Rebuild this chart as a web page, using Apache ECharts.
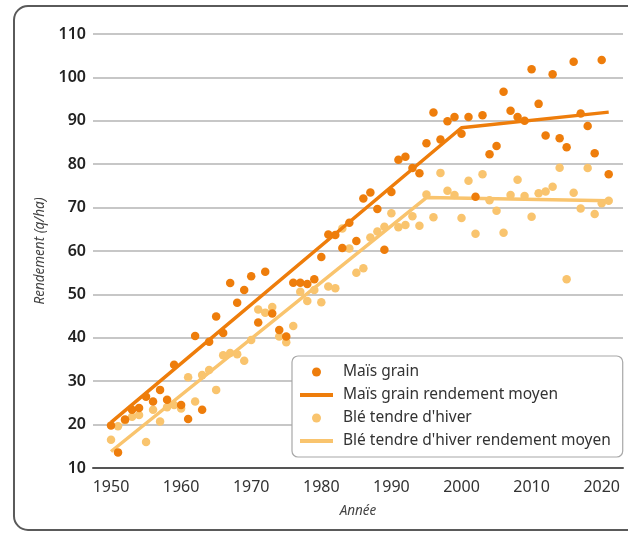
<!DOCTYPE html>
<html>
<head>
<meta charset="utf-8">
<script src="https://cdn.jsdelivr.net/npm/echarts@6/dist/echarts.min.js"></script>
<style>
    html,body{margin:0;padding:0;background:#fff;}
    #chart{width:628px;height:536px;}
</style>
</head>
<body>
<div id="chart"></div>
<script>
// années (positions sur l'axe) et rendements en q/ha
var years = [];
for (var y = 1950; y <= 2021; y++) years.push(y);

var maisValues = [
    19.8, 13.6, 21.2, 23.4, 23.8, 26.4, 25.3, 28.0, 25.7, 33.8,
    24.5, 21.3, 40.4, 23.4, 39.1, 44.9, 41.1, 52.6, 48.1, 51.0,
    54.2, 43.5, 55.2, 45.6, 41.8, 40.3, 52.7, 52.7, 52.4, 53.5,
    58.6, 63.8, 63.7, 60.7, 66.5, 62.3, 72.1, 73.5, 69.7, 60.3,
    73.6, 81.0, 81.7, 79.1, 77.9, 84.8, 91.9, 85.7, 89.9, 90.9,
    87.0, 90.9, 72.5, 91.3, 82.3, 84.2, 96.7, 92.3, 90.9, 90.0,
    101.9, 93.9, 86.6, 100.7, 86.0, 83.9, 103.6, 91.7, 88.8, 82.5,
    104.0, 77.7
];
var bleValues = [
    16.5, 19.6, 21.0, 21.8, 22.2, 16.0, 23.4, 20.7, 24.0, 24.5,
    23.7, 30.9, 25.3, 31.4, 32.6, 28.0, 36.0, 36.5, 36.2, 34.7,
    39.5, 46.5, 45.8, 47.1, 40.3, 39.0, 42.7, 50.6, 48.5, 51.0,
    48.2, 51.8, 51.4, 65.2, 60.6, 55.0, 56.0, 63.1, 64.5, 65.6,
    68.7, 65.5, 66.0, 68.0, 65.8, 73.0, 67.8, 78.0, 73.9, 72.9,
    67.6, 76.2, 64.0, 77.7, 71.7, 69.3, 64.2, 72.9, 76.4, 72.7,
    67.9, 73.3, 73.7, 74.8, 79.2, 53.5, 73.4, 69.8, 79.1, 68.5,
    71.0, 71.6
];
// rendements moyens (droites de tendance par période)
var maisTrendYears = [1950, 2000, 2021];
var maisTrendValues = [20.5, 88.4, 92.0];
var bleTrendYears = [1950, 1995, 2021];
var bleTrendValues = [13.8, 72.3, 71.6];

var xTickLabels = [1950, 1960, 1970, 1980, 1990, 2000, 2010, 2020];

function pairs(xs, vs){
    return xs.map(function(x, i){ return [x, vs[i]]; });
}

var cDark = '#EE7D0B';
var cLight = '#F9C46E';
var font = '"Noto Sans", "Open Sans", sans-serif';

var myChart = echarts.init(document.getElementById('chart'));
myChart.setOption({
    animation: false,
    textStyle: {fontFamily: font},
    graphic: [{
        type: 'rect',
        shape: {x: 14, y: 6, width: 700, height: 524, r: 14},
        style: {fill: 'none', stroke: '#5a5a5a', lineWidth: 2},
        z: -1
    }],
    grid: {left: 93, right: 5, top: 34, bottom: 68},
    legend: {
        orient: 'vertical',
        left: 292,
        top: 356,
        padding: [8, 12, 8, 8],
        itemGap: 7,
        itemWidth: 33,
        itemHeight: 9,
        backgroundColor: '#fff',
        borderColor: '#a8a8a8',
        borderWidth: 1.2,
        borderRadius: 6,
        textStyle: {fontSize: 15.5, color: '#333', fontFamily: font, padding: [0, 0, 0, 5]},
        data: [
            {name: 'Maïs grain', icon: 'circle'},
            {name: 'Maïs grain rendement moyen', icon: 'path://M0,0H33V4H0Z'},
            {name: "Blé tendre d'hiver", icon: 'circle'},
            {name: "Blé tendre d'hiver rendement moyen", icon: 'path://M0,0H33V4H0Z'}
        ]
    },
    xAxis: {
        type: 'value',
        min: 1947.43,
        max: 2023.04,
        name: 'Année',
        nameLocation: 'middle',
        nameGap: 36,
        nameTextStyle: {fontStyle: 'italic', fontSize: 13.5, color: '#444'},
        axisLine: {show: true, lineStyle: {color: '#555', width: 2}},
        axisTick: {show: false},
        splitLine: {show: false},
        axisLabel: {
            customValues: xTickLabels,
            formatter: function(v){ return String(v); },
            fontSize: 16,
            color: '#333',
            margin: 11
        }
    },
    yAxis: {
        type: 'value',
        min: 10,
        max: 110,
        interval: 10,
        name: 'Rendement (q/ha)',
        nameLocation: 'middle',
        nameGap: 43,
        nameTextStyle: {fontStyle: 'italic', fontSize: 13.5, color: '#444'},
        axisLine: {show: false},
        axisTick: {show: false},
        axisLabel: {fontSize: 16, fontWeight: 600, color: '#222', margin: 7},
        splitLine: {lineStyle: {color: '#b4b4b4', width: 1.5}}
    },
    series: [
        {
            name: "Blé tendre d'hiver",
            type: 'scatter',
            data: pairs(years, bleValues),
            symbolSize: 8.5,
            itemStyle: {color: cLight, opacity: 1},
            z: 2
        },
        {
            name: "Blé tendre d'hiver rendement moyen",
            type: 'line',
            data: pairs(bleTrendYears, bleTrendValues),
            symbol: 'none',
            lineStyle: {color: cLight, width: 3.5},
            itemStyle: {color: cLight},
            z: 3
        },
        {
            name: 'Maïs grain',
            type: 'scatter',
            data: pairs(years, maisValues),
            symbolSize: 8.5,
            itemStyle: {color: cDark, opacity: 1},
            z: 4
        },
        {
            name: 'Maïs grain rendement moyen',
            type: 'line',
            data: pairs(maisTrendYears, maisTrendValues),
            symbol: 'none',
            lineStyle: {color: cDark, width: 3.5},
            itemStyle: {color: cDark},
            z: 5
        }
    ]
});
</script>
</body>
</html>
